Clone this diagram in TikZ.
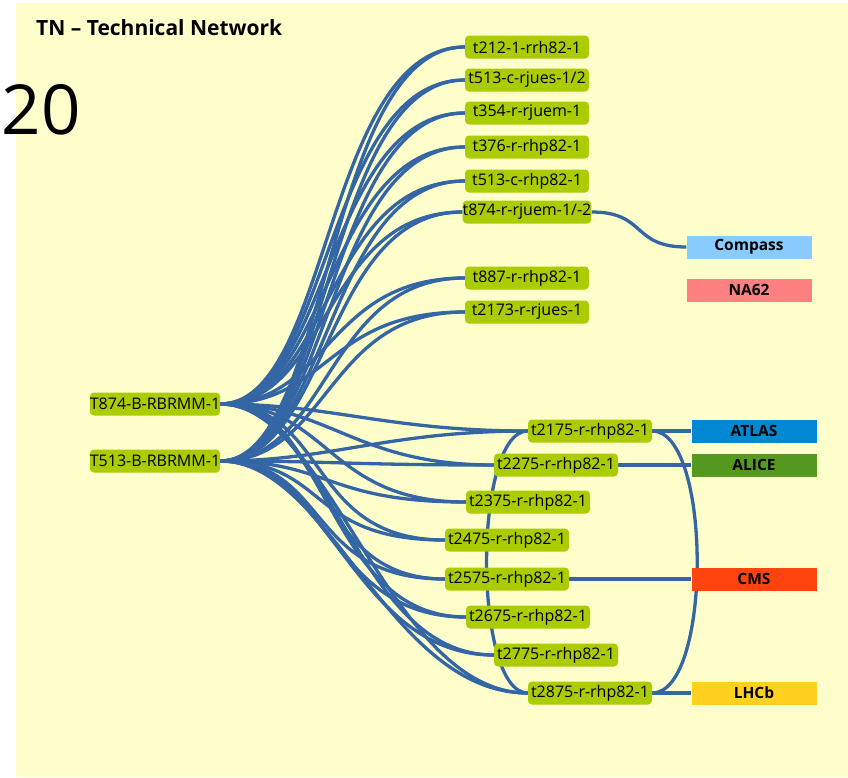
\documentclass[tikz,border=0pt]{standalone}
\usepackage{fontspec}
\setmainfont{Open Sans}
\definecolor{paperyellow}{HTML}{FFFFCC}
\definecolor{switchgreen}{HTML}{AACC00}
\definecolor{cableblue}{HTML}{3466A5}
\definecolor{compass}{HTML}{88CCFF}
\definecolor{natwo}{HTML}{FF8080}
\definecolor{atlas}{HTML}{0088D2}
\definecolor{alice}{HTML}{559A1E}
\definecolor{cms}{HTML}{FF4410}
\definecolor{lhcb}{HTML}{FFD020}
\pgfdeclarelayer{paper}
\pgfdeclarelayer{wires}
\pgfsetlayers{paper,wires,main}
\begin{document}
\begin{tikzpicture}[x=1pt,y=-1pt,
	switch/.style={fill=switchgreen,rounded corners=4pt,minimum width=124pt,minimum height=23pt,inner sep=0pt,font=\fontsize{16}{16}\selectfont},
	expt/.style={fill=#1,minimum width=125pt,minimum height=23pt,inner sep=0pt,font=\fontsize{15.5}{15.5}\selectfont\bfseries},
	cable/.style={draw=cableblue,line width=3.3pt}]
	\useasboundingbox (0,0) rectangle (848,777);
	\begin{pgfonlayer}{paper}
		\fill[paperyellow] (16,3) rectangle (848,777);
	\end{pgfonlayer}
	\node[anchor=west,inner sep=0pt,font=\fontsize{21}{21}\selectfont\bfseries] (title) at (36,28) {TN -- Technical Network};
	\node[font=\fontsize{69}{69}\selectfont] (count) at (41,110) {20};
	% core routers
	\node[switch] (T874) at (155,404) {T874-B-RBRMM-1};
	\node[switch] (T513) at (155,461) {T513-B-RBRMM-1};
	% upper access switches
	\path
	(527,47) node[switch] (t212) {t212-1-rrh82-1}
	(527,80) node[switch] (t513c) {t513-c-rjues-1/2}
	(527,113) node[switch] (t354) {t354-r-rjuem-1}
	(527,147) node[switch] (t376) {t376-r-rhp82-1}
	(527,181) node[switch] (t513r) {t513-c-rhp82-1}
	(527,212) node[switch] (t874) {t874-r-rjuem-1/-2}
	(527,278) node[switch] (t887) {t887-r-rhp82-1}
	(527,312) node[switch] (t2173) {t2173-r-rjues-1}
	;
	% experiment switches
	\path
	(590,431) node[switch] (t2175) {t2175-r-rhp82-1}
	(556,465) node[switch] (t2275) {t2275-r-rhp82-1}
	(528,502) node[switch] (t2375) {t2375-r-rhp82-1}
	(507,540) node[switch] (t2475) {t2475-r-rhp82-1}
	(507,579) node[switch] (t2575) {t2575-r-rhp82-1}
	(528,617) node[switch] (t2675) {t2675-r-rhp82-1}
	(556,655) node[switch] (t2775) {t2775-r-rhp82-1}
	(590,693) node[switch] (t2875) {t2875-r-rhp82-1}
	;
	% experiments
	\node[expt=compass] (Compass) at (749,247) {Compass};
	\node[expt=natwo] (NA62) at (749,290) {NA62};
	\node[expt=atlas] (ATLAS) at (754,431) {ATLAS};
	\node[expt=alice] (ALICE) at (754,465) {ALICE};
	\node[expt=cms] (CMS) at (754,579) {CMS};
	\node[expt=lhcb] (LHCb) at (754,693) {LHCb};
	\begin{pgfonlayer}{wires}
		\foreach \src in {T874,T513}
		\foreach \dst in {t212,t513c,t354,t376,t513r,t874,t887,t2173,t2175,t2275,t2375,t2475,t2575,t2675,t2775,t2875}
		\draw[cable] (\src.east) .. controls +(110,0) and +(-140,0) .. (\dst.west);
		\draw[cable] (t874.east) .. controls +(55,0) and +(-55,0) .. (Compass.west);
		\draw[cable] (t2175.east) -- (ATLAS.west);
		\draw[cable] (t2275.east) -- (ALICE.west);
		\draw[cable] (t2575.east) -- (CMS.west);
		\draw[cable] (t2875.east) -- (LHCb.west);
		% ring between the two experiment uplinks
		\draw[cable] (t2175.east) .. controls +(60,0) and +(60,0) .. (t2875.east);
		\draw[cable] (t2175.west) .. controls +(-55,0) and +(-55,0) .. (t2875.west);
	\end{pgfonlayer}
\end{tikzpicture}
\end{document}
